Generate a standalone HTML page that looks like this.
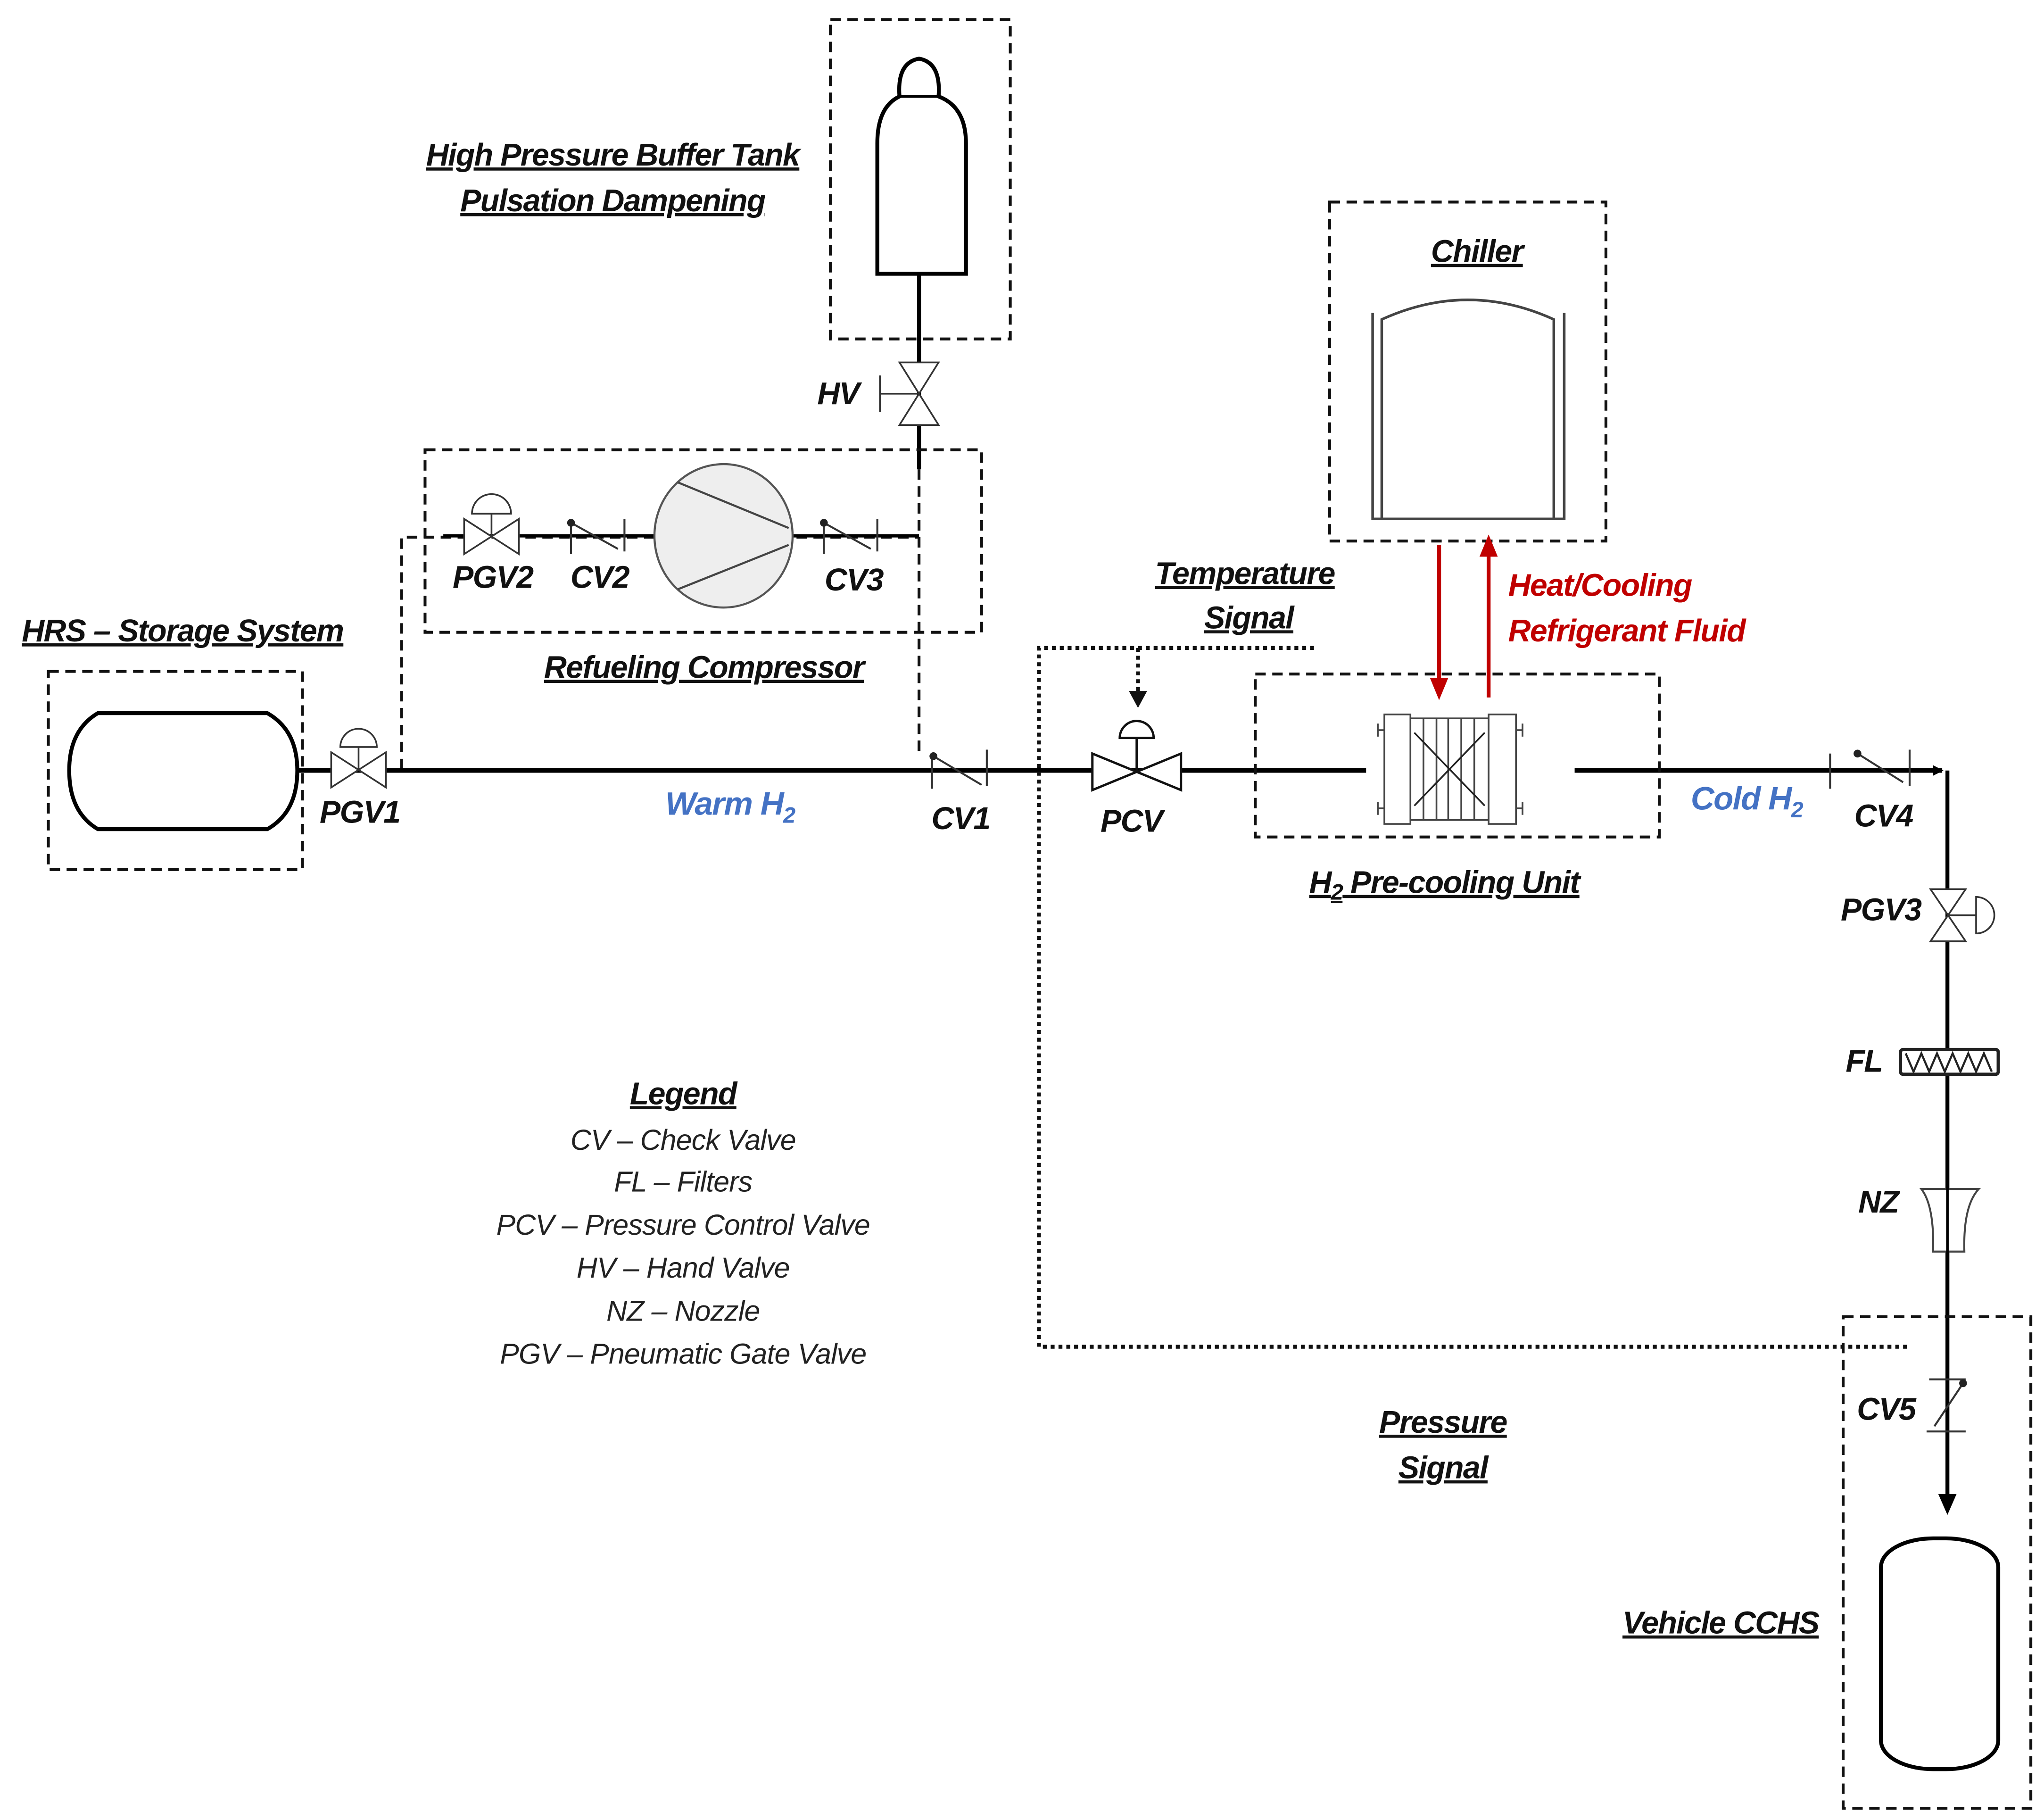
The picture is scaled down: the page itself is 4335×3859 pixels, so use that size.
<!DOCTYPE html>
<html><head><meta charset="utf-8"><style>
html,body{margin:0;padding:0;background:#fff;}
svg{display:block;}
text{font-family:"Liberation Sans Narrow","Liberation Sans",sans-serif;font-style:italic;}
.b{font-weight:bold;font-size:24px;fill:#111;letter-spacing:-0.6px;}
.u{text-decoration:underline;}
.lg{font-size:22px;fill:#222;letter-spacing:-0.3px;}
.d{fill:none;stroke:#111;stroke-width:2.2;stroke-dasharray:8,5;}
.v{fill:#fff;stroke:#333;stroke-width:1.3;}
</style></head><body>
<svg width="4335" height="3859" viewBox="0 0 1568 1396" xmlns="http://www.w3.org/2000/svg">
<defs>
<marker id="ak" markerWidth="8" markerHeight="8" refX="7" refY="4" orient="auto" markerUnits="userSpaceOnUse"><path d="M0,0L8,4L0,8z" fill="#000"/></marker>
</defs>
<rect x="637" y="15" width="138" height="245" class="d"/>
<path d="M673,210 V110 Q673,82 690,74 Q688,48 705,45 Q722,48 720,74 Q741,82 741,110 V210 Z" fill="#fff" stroke="#000" stroke-width="3"/>
<line x1="690" y1="74" x2="720" y2="74" stroke="#000" stroke-width="2"/>
<line x1="705" y1="210" x2="705" y2="360" stroke="#000" stroke-width="3"/>
<path d="M690,278 L720,278 L690,326 L720,326 Z" class="v"/>
<line x1="675" y1="302" x2="705" y2="302" stroke="#333" stroke-width="1.3"/>
<line x1="675" y1="288" x2="675" y2="316" stroke="#333" stroke-width="1.3"/>
<text x="643" y="310" class="b" text-anchor="middle">HV</text>
<text x="470" y="127" class="b u" text-anchor="middle">High Pressure  Buffer Tank</text>
<text x="470" y="162" class="b u" text-anchor="middle">Pulsation Dampening</text>
<rect x="326" y="345" width="427" height="140" class="d"/>
<path d="M308,590 V412 H705 M705,360 V580" class="d"/>
<line x1="340" y1="411" x2="705" y2="411" stroke="#000" stroke-width="2.5"/>
<path d="M356,398 L356,425 L398,398 L398,425 Z" class="v"/>
<line x1="377" y1="411" x2="377" y2="394" stroke="#333" stroke-width="1.3"/>
<path d="M362,394 A15,15 0 0 1 392,394 Z" class="v"/>
<g stroke="#333" stroke-width="1.5" fill="none"><line x1="438" y1="400" x2="438" y2="425"/><line x1="479" y1="398" x2="479" y2="423"/><line x1="438" y1="401" x2="474" y2="421"/></g><circle cx="438" cy="401" r="3" fill="#222"/>
<g stroke="#333" stroke-width="1.5" fill="none"><line x1="632" y1="400" x2="632" y2="425"/><line x1="673" y1="398" x2="673" y2="423"/><line x1="632" y1="401" x2="668" y2="421"/></g><circle cx="632" cy="401" r="3" fill="#222"/>
<ellipse cx="555" cy="411" rx="53" ry="55" fill="#eee" stroke="#555" stroke-width="1.6"/>
<line x1="520" y1="370" x2="605" y2="405" stroke="#444" stroke-width="1.6"/>
<line x1="520" y1="452" x2="605" y2="418" stroke="#444" stroke-width="1.6"/>
<text x="378" y="451" class="b" text-anchor="middle">PGV2</text>
<text x="460" y="451" class="b" text-anchor="middle">CV2</text>
<text x="655" y="453" class="b" text-anchor="middle">CV3</text>
<text x="540" y="520" class="b u" text-anchor="middle">Refueling Compressor</text>
<text x="140" y="492" class="b u" text-anchor="middle">HRS – Storage System</text>
<rect x="37" y="515" width="195" height="152" class="d"/>
<path d="M75,547 H205 Q228,560 228,591 Q228,623 205,636 H75 Q53,623 53,591 Q53,560 75,547 Z" fill="#fff" stroke="#000" stroke-width="3"/>
<line x1="228" y1="591" x2="1048" y2="591" stroke="#000" stroke-width="3.5"/>
<line x1="1208" y1="591" x2="1490" y2="591" stroke="#000" stroke-width="3.5" marker-end="url(#ak)"/>
<path d="M254,577 L254,604 L296,577 L296,604 Z" class="v"/>
<line x1="275" y1="591" x2="275" y2="573" stroke="#333" stroke-width="1.3"/>
<path d="M261,573 A14,14 0 0 1 289,573 Z" class="v"/>
<text x="276" y="631" class="b" text-anchor="middle">PGV1</text>
<text x="560" y="625" class="b" style="fill:#4472C4;font-size:25px" text-anchor="middle">Warm H<tspan font-size="17" dy="6">2</tspan></text>
<g stroke="#333" stroke-width="1.5" fill="none"><line x1="715" y1="578" x2="715" y2="605"/><line x1="757" y1="575" x2="757" y2="603"/><line x1="716" y1="580" x2="753" y2="602"/></g><circle cx="716" cy="580" r="3" fill="#222"/>
<text x="737" y="636" class="b" text-anchor="middle">CV1</text>
<path d="M838,578 L838,606 L906,578 L906,606 Z" fill="#fff" stroke="#111" stroke-width="1.8"/>
<line x1="872" y1="592" x2="872" y2="566" stroke="#111" stroke-width="1.8"/>
<path d="M859,566 A13,13 0 0 1 885,566 Z" fill="#fff" stroke="#111" stroke-width="1.8"/>
<text x="868" y="638" class="b" text-anchor="middle">PCV</text>
<path d="M1008,497 H797 V1033 H1465" fill="none" stroke="#111" stroke-width="3" stroke-dasharray="3,3"/>
<line x1="873" y1="497" x2="873" y2="532" stroke="#111" stroke-width="3" stroke-dasharray="3,3"/>
<path d="M866,530 L880,530 L873,543 Z" fill="#111"/>
<text x="955" y="448" class="b u" text-anchor="middle">Temperature </text>
<text x="958" y="482" class="b u" text-anchor="middle">Signal</text>
<rect x="1020" y="155" width="212" height="260" class="d"/>
<text x="1133" y="201" class="b u" text-anchor="middle">Chiller</text>
<path d="M1060,398 V245 Q1126,215 1192,245 V398 Z" fill="#fff" stroke="#444" stroke-width="2"/>
<path d="M1053,240 V398 H1200 V240" fill="none" stroke="#444" stroke-width="2"/>
<line x1="1104" y1="418" x2="1104" y2="522" stroke="#C00000" stroke-width="3"/>
<path d="M1097,520 L1111,520 L1104,537 Z" fill="#C00000"/>
<line x1="1142" y1="535" x2="1142" y2="425" stroke="#C00000" stroke-width="3"/>
<path d="M1135,427 L1149,427 L1142,410 Z" fill="#C00000"/>
<text x="1157" y="457" class="b" style="fill:#C00000">Heat/Cooling</text>
<text x="1157" y="492" class="b" style="fill:#C00000">Refrigerant Fluid</text>
<rect x="963" y="517" width="310" height="125" class="d"/>
<g stroke="#444" stroke-width="1.3" fill="#fff">
<rect x="1062" y="548" width="20" height="84"/><rect x="1082" y="551" width="60" height="78"/><rect x="1142" y="548" width="21" height="84"/>
<line x1="1092" y1="551" x2="1092" y2="629"/><line x1="1102" y1="551" x2="1102" y2="629"/><line x1="1111" y1="551" x2="1111" y2="629"/><line x1="1121" y1="551" x2="1121" y2="629"/><line x1="1131" y1="551" x2="1131" y2="629"/>
<line x1="1085" y1="562" x2="1139" y2="618" stroke="#222"/><line x1="1139" y1="562" x2="1085" y2="618" stroke="#222"/>
<path d="M1062,560 H1057 M1057,555 V565 M1062,620 H1057 M1057,615 V625 M1163,560 H1168 M1168,555 V565 M1163,620 H1168 M1168,615 V625"/>
</g>
<text x="1108" y="685" class="b u" text-anchor="middle">H<tspan font-size="17" dy="5">2</tspan><tspan dy="-5"> Pre-cooling Unit</tspan></text>
<text x="1340" y="621" class="b" style="fill:#4472C4;font-size:25px" text-anchor="middle">Cold H<tspan font-size="17" dy="6">2</tspan></text>
<g stroke="#333" stroke-width="1.5" fill="none"><line x1="1404" y1="578" x2="1404" y2="605"/><line x1="1465" y1="575" x2="1465" y2="603"/><line x1="1425" y1="578" x2="1460" y2="600"/></g><circle cx="1425" cy="578" r="3" fill="#222"/>
<text x="1445" y="634" class="b" text-anchor="middle">CV4</text>
<line x1="1494" y1="591" x2="1494" y2="1148" stroke="#000" stroke-width="3"/>
<path d="M1487,1146 L1501,1146 L1494,1162 Z" fill="#000"/>
<path d="M1481,682 L1508,682 L1481,722 L1508,722 Z" class="v"/>
<line x1="1494" y1="702" x2="1516" y2="702" stroke="#333" stroke-width="1.3"/>
<path d="M1516,688 A14,14 0 0 1 1516,716 Z" class="v"/>
<text x="1443" y="706" class="b" text-anchor="middle">PGV3</text>
<rect x="1458" y="805" width="75" height="19" fill="#fff" stroke="#222" stroke-width="2.5" rx="2"/>
<path d="M1462,808 L1468,822 L1474,808 L1480,822 L1486,808 L1492,822 L1498,808 L1504,822 L1510,808 L1516,822 L1522,808 L1528,822" fill="none" stroke="#222" stroke-width="1.6"/>
<text x="1430" y="822" class="b" text-anchor="middle">FL</text>
<path d="M1474,912 L1518,912 Q1506,925 1507,960 L1483,960 Q1484,925 1474,912 Z" fill="#fff" stroke="#444" stroke-width="1.5"/>
<line x1="1494" y1="910" x2="1494" y2="962" stroke="#000" stroke-width="2"/>
<text x="1441" y="930" class="b" text-anchor="middle">NZ</text>
<rect x="1414" y="1010" width="144" height="377" class="d"/>
<g stroke="#333" stroke-width="1.5" fill="none"><line x1="1480" y1="1058" x2="1508" y2="1058"/><line x1="1478" y1="1098" x2="1508" y2="1098"/><line x1="1506" y1="1061" x2="1484" y2="1094"/></g><circle cx="1506" cy="1061" r="3" fill="#222"/>
<text x="1447" y="1089" class="b" text-anchor="middle">CV5</text>
<rect x="1443" y="1180" width="90" height="177" rx="40" ry="22" fill="#fff" stroke="#000" stroke-width="3"/>
<text x="1320" y="1253" class="b u" text-anchor="middle">Vehicle CCHS</text>
<text x="1107" y="1099" class="b u" text-anchor="middle">Pressure</text>
<text x="1107" y="1134" class="b u" text-anchor="middle">Signal</text>
<text x="524" y="847" class="b u" text-anchor="middle">Legend</text>
<text x="524" y="882" class="lg" text-anchor="middle">CV – Check Valve</text>
<text x="524" y="914" class="lg" text-anchor="middle">FL – Filters</text>
<text x="524" y="947" class="lg" text-anchor="middle">PCV – Pressure Control Valve</text>
<text x="524" y="980" class="lg" text-anchor="middle">HV – Hand Valve</text>
<text x="524" y="1013" class="lg" text-anchor="middle">NZ – Nozzle</text>
<text x="524" y="1046" class="lg" text-anchor="middle">PGV – Pneumatic Gate Valve</text>
</svg>
</body></html>
